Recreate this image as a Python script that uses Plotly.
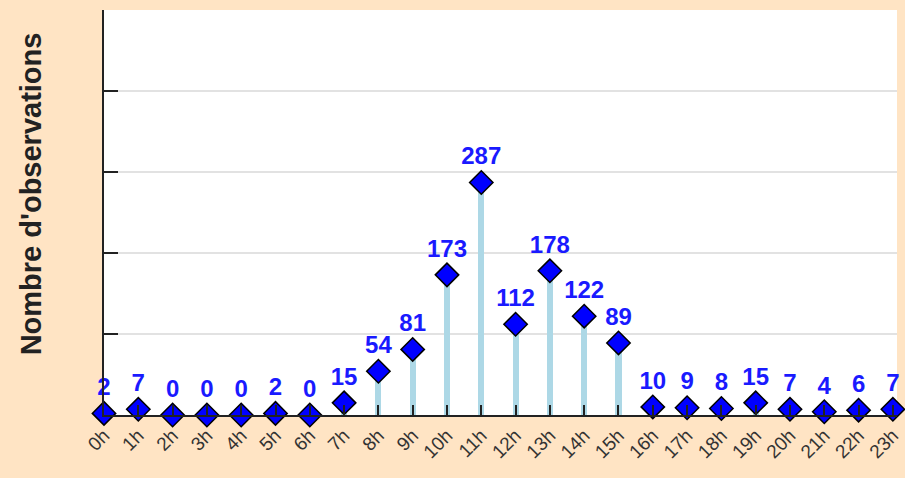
import plotly.graph_objects as go

hours = [f"{h}h" for h in range(24)]
hour_idx = list(range(24))
counts = [2, 7, 0, 0, 0, 2, 0, 15, 54, 81, 173, 287, 112, 178, 122, 89, 10, 9, 8, 15, 7, 4, 6, 7]
y_ticks = [0, 100, 200, 300, 400, 500]

fig = go.Figure()
fig.add_trace(go.Bar(
    x=hour_idx, y=counts, width=0.18,
    marker=dict(color="#ADD8E6", line=dict(width=0)),
    hoverinfo="skip", showlegend=False,
))
fig.add_trace(go.Scatter(
    x=hour_idx, y=counts, mode="markers+text",
    text=[str(c) for c in counts], textposition="top center",
    textfont=dict(family="Liberation Sans", size=24, color="#1a1aff", weight="bold"),
    marker=dict(symbol="diamond", size=18, color="#0000ff", line=dict(color="black", width=1.5)),
    cliponaxis=False, showlegend=False,
))

fig.update_layout(
    width=905, height=478,
    margin=dict(l=104, r=8, t=10, b=63, autoexpand=False),
    paper_bgcolor="bisque", plot_bgcolor="white",
    bargap=0,
    xaxis=dict(
        range=[0, 23.12], tickvals=hour_idx, ticktext=hours, automargin=False,
        tickangle=-45, ticks="inside", ticklen=10, tickwidth=2, tickcolor="#222",
        showline=True, linecolor="#222", linewidth=2, showgrid=False, zeroline=False,
        tickfont=dict(family="Liberation Sans", size=19, color="#333"),
    ),
    yaxis=dict(
        range=[0, 500], tickvals=y_ticks, showticklabels=False, automargin=False,
        ticks="inside", ticklen=14, tickwidth=2, tickcolor="#222",
        showline=True, linecolor="#222", linewidth=2,
        showgrid=True, gridcolor="#e2e2e2", gridwidth=2, zeroline=False,
    ),
    annotations=[dict(
        text="<b>Nombre d'observations</b>", textangle=-90,
        xref="paper", yref="paper", x=-0.092, y=0.545,
        xanchor="center", yanchor="middle", showarrow=False,
        font=dict(family="Liberation Sans", size=29, color="#222"),
    )],
)

fig.write_html(
    "out.html",
    config={"displayModeBar": False},
    post_script="document.body.style.margin='0';document.body.style.background='bisque';",
)
